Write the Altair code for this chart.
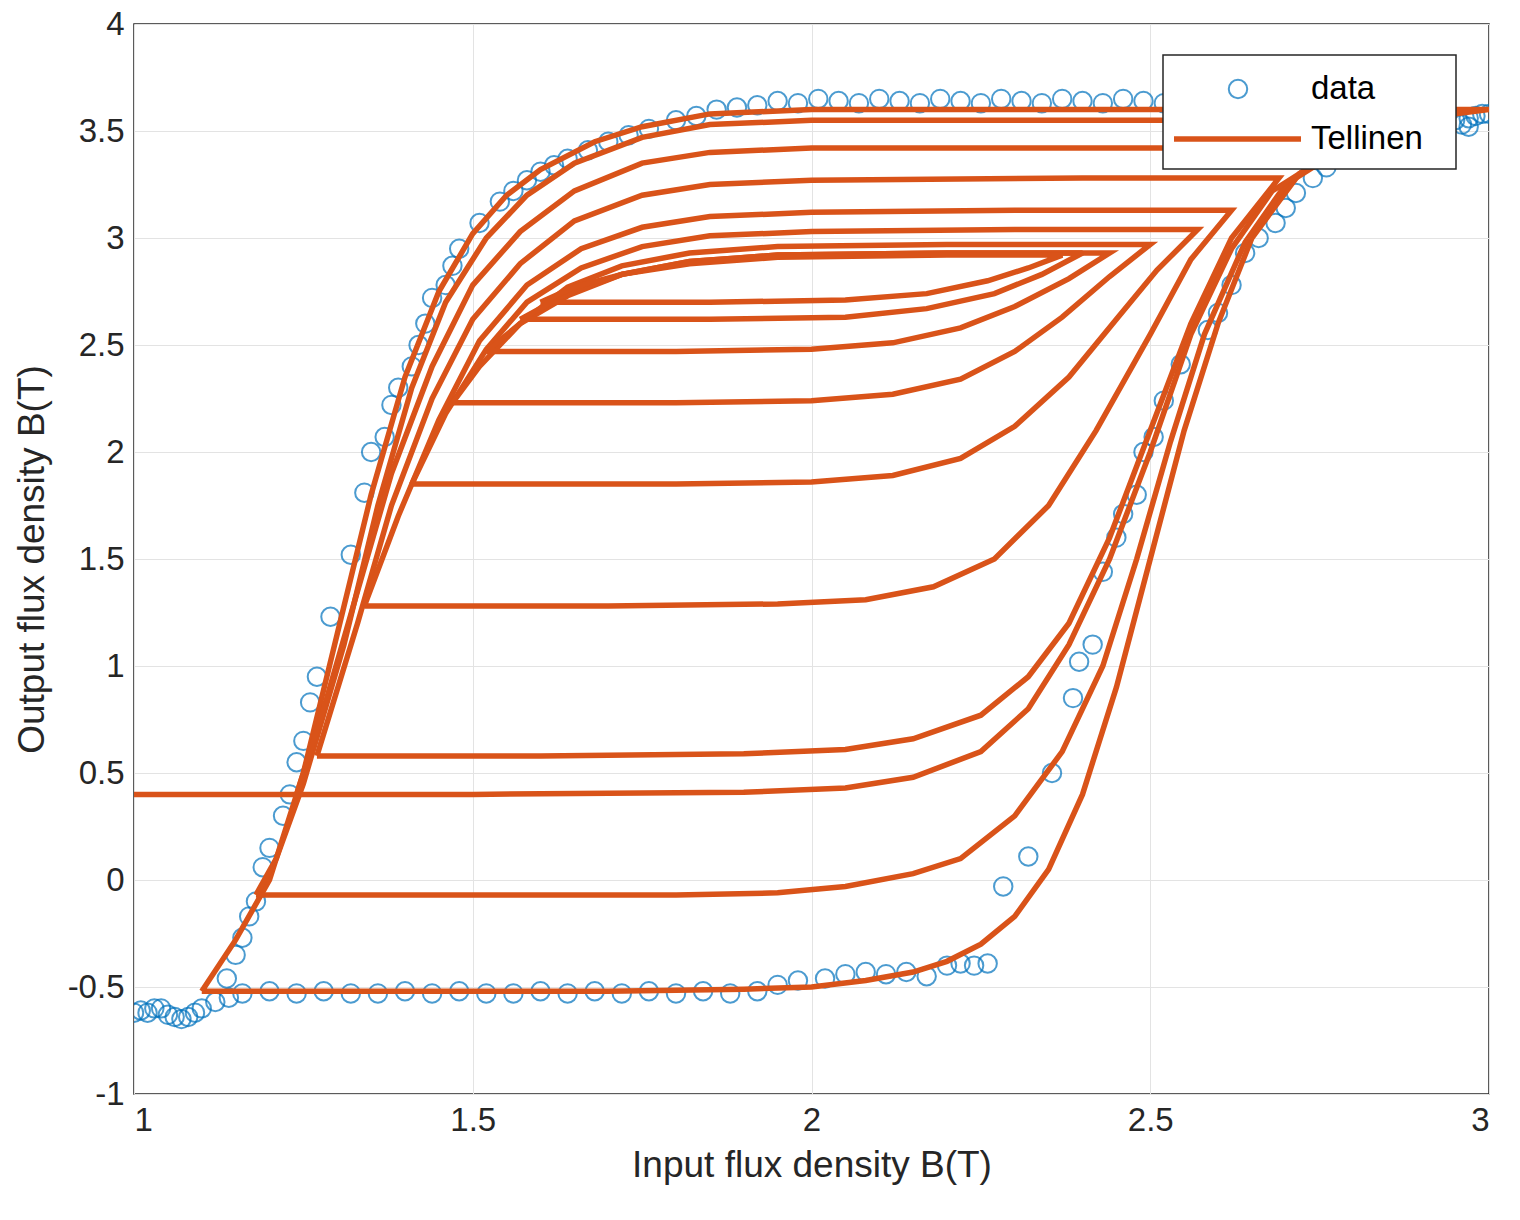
import altair as alt
import pandas as pd

BLUE = "#0072BD"
ORANGE = "#D95319"
FONT = "Liberation Sans"

# measured data (circles)
data_x = [1.0, 1.01, 1.02, 1.03, 1.04, 1.05, 1.06, 1.07, 1.08, 1.09, 1.1, 1.12, 1.14,
          1.16, 1.2, 1.24, 1.28, 1.32, 1.36, 1.4, 1.44, 1.48, 1.52, 1.56, 1.6, 1.64, 1.68,
          1.72, 1.76, 1.8, 1.84, 1.88, 1.92,
          1.95, 1.98, 2.02, 2.05, 2.08, 2.11, 2.14, 2.17, 2.2, 2.22, 2.24, 2.26,
          1.137, 1.15, 1.16, 1.17, 1.18, 1.19, 1.2, 1.22, 1.23, 1.24, 1.25, 1.26, 1.27, 1.29,
          1.32, 1.34, 1.35, 1.37, 1.38, 1.39, 1.41, 1.42, 1.43, 1.44, 1.46, 1.47, 1.48, 1.51,
          1.54, 1.56, 1.58, 1.6, 1.62, 1.64, 1.67, 1.7, 1.73, 1.76, 1.8, 1.83, 1.86, 1.89, 1.92,
          1.95, 1.98, 2.01, 2.04, 2.07, 2.1, 2.13, 2.16, 2.19, 2.22, 2.25, 2.28, 2.31, 2.34,
          2.37, 2.4, 2.43, 2.46, 2.49, 2.52, 2.55, 2.58, 2.61, 2.64, 2.67, 2.7, 2.73, 2.76,
          2.79, 2.82, 2.85, 2.88, 2.91, 2.93,
          2.95, 2.96, 2.97, 2.98, 2.99, 3.0, 2.97,
          2.283, 2.32, 2.355, 2.386, 2.395, 2.415, 2.43, 2.45, 2.46, 2.48, 2.49, 2.505, 2.52,
          2.545, 2.585, 2.6, 2.62, 2.64, 2.66, 2.685, 2.7, 2.715, 2.74, 2.76, 2.8, 2.85, 2.9]
data_y = [-0.62, -0.61, -0.62, -0.6, -0.6, -0.63, -0.64, -0.65, -0.64, -0.62, -0.6, -0.57, -0.55,
          -0.53, -0.52, -0.53, -0.52, -0.53, -0.53, -0.52, -0.53, -0.52, -0.53, -0.53, -0.52,
          -0.53, -0.52, -0.53, -0.52, -0.53, -0.52, -0.53, -0.52,
          -0.49, -0.47, -0.46, -0.44, -0.43, -0.44, -0.43, -0.45, -0.4, -0.39, -0.40, -0.39,
          -0.46, -0.35, -0.27, -0.17, -0.1, 0.06, 0.15, 0.3, 0.4, 0.55, 0.65, 0.83, 0.95, 1.23,
          1.52, 1.81, 2.0, 2.07, 2.22, 2.3, 2.4, 2.5, 2.6, 2.72, 2.78, 2.87, 2.95, 3.07,
          3.17, 3.22, 3.27, 3.31, 3.34, 3.37, 3.41, 3.45, 3.48, 3.51, 3.55, 3.57, 3.6, 3.61, 3.62,
          3.64, 3.63, 3.65, 3.64, 3.63, 3.65, 3.64, 3.63, 3.65, 3.64, 3.63, 3.65, 3.64, 3.63,
          3.65, 3.64, 3.63, 3.65, 3.64, 3.63, 3.65, 3.64, 3.63, 3.65, 3.64, 3.63, 3.65, 3.64,
          3.63, 3.65, 3.64, 3.63, 3.64, 3.6,
          3.55, 3.53, 3.56, 3.57, 3.58, 3.58, 3.52,
          -0.03, 0.11, 0.5, 0.85, 1.02, 1.10, 1.44, 1.6, 1.71, 1.8, 2.0, 2.07, 2.24,
          2.41, 2.57, 2.65, 2.78, 2.93, 3.0, 3.07, 3.14, 3.21, 3.28, 3.33, 3.38, 3.45, 3.5]

# Tellinen model: one path per minor loop
loop_a = [(1.10, -0.52), (1.4, -0.52), (1.7, -0.52), (1.9, -0.51), (2.0, -0.50), (2.08, -0.47),
          (2.15, -0.43), (2.2, -0.38), (2.25, -0.3), (2.3, -0.17), (2.35, 0.05), (2.4, 0.4),
          (2.45, 0.9), (2.5, 1.5), (2.55, 2.1), (2.6, 2.6), (2.65, 3.0), (2.72, 3.3), (2.8, 3.47),
          (2.9, 3.56), (3.0, 3.6), (2.5, 3.6), (2.0, 3.6), (1.85, 3.58), (1.75, 3.52), (1.68, 3.45),
          (1.6, 3.32), (1.55, 3.2), (1.5, 3.02), (1.45, 2.75), (1.4, 2.35), (1.35, 1.8), (1.3, 1.15),
          (1.25, 0.5), (1.2, 0.0), (1.15, -0.28), (1.10, -0.52)]
loop_b = [(1.18, -0.07), (1.5, -0.07), (1.8, -0.07), (1.95, -0.06), (2.05, -0.03), (2.15, 0.03),
          (2.22, 0.1), (2.3, 0.3), (2.37, 0.6), (2.43, 1.0), (2.48, 1.5), (2.53, 2.05), (2.58, 2.55),
          (2.64, 2.98), (2.7, 3.25), (2.8, 3.45), (2.92, 3.55), (2.5, 3.55), (2.0, 3.55), (1.85, 3.53),
          (1.75, 3.47), (1.65, 3.35), (1.58, 3.2), (1.52, 3.0), (1.46, 2.7), (1.41, 2.3), (1.36, 1.75),
          (1.31, 1.1), (1.25, 0.45), (1.21, 0.1), (1.18, -0.07)]
loop_c = [(1.0, 0.4), (1.5, 0.4), (1.9, 0.41), (2.05, 0.43), (2.15, 0.48), (2.25, 0.6), (2.32, 0.8),
          (2.38, 1.1), (2.44, 1.5), (2.5, 2.0), (2.56, 2.55), (2.62, 2.95), (2.68, 3.22), (2.78, 3.42),
          (2.5, 3.42), (2.0, 3.42), (1.85, 3.4), (1.75, 3.35), (1.65, 3.22), (1.57, 3.03), (1.5, 2.78),
          (1.44, 2.4), (1.38, 1.9), (1.33, 1.35), (1.28, 0.8), (1.24, 0.4)]
loop_d = [(1.27, 0.58), (1.6, 0.58), (1.9, 0.59), (2.05, 0.61), (2.15, 0.66), (2.25, 0.77), (2.32, 0.95),
          (2.38, 1.2), (2.44, 1.6), (2.5, 2.1), (2.56, 2.6), (2.62, 3.0), (2.69, 3.28), (2.4, 3.28),
          (2.0, 3.27), (1.85, 3.25), (1.75, 3.2), (1.65, 3.08), (1.57, 2.88), (1.5, 2.62), (1.44, 2.25),
          (1.38, 1.75), (1.33, 1.2), (1.27, 0.58)]
loop_e = [(1.34, 1.28), (1.7, 1.28), (1.95, 1.29), (2.08, 1.31), (2.18, 1.37), (2.27, 1.5), (2.35, 1.75),
          (2.42, 2.1), (2.5, 2.55), (2.56, 2.9), (2.62, 3.13), (2.3, 3.13), (2.0, 3.12), (1.85, 3.1),
          (1.75, 3.05), (1.66, 2.95), (1.58, 2.78), (1.51, 2.52), (1.45, 2.15), (1.39, 1.7), (1.34, 1.28)]
loop_f = [(1.41, 1.85), (1.8, 1.85), (2.0, 1.86), (2.12, 1.89), (2.22, 1.97), (2.3, 2.12), (2.38, 2.35),
          (2.45, 2.62), (2.51, 2.85), (2.57, 3.04), (2.3, 3.04), (2.0, 3.03), (1.85, 3.01), (1.75, 2.96),
          (1.66, 2.86), (1.58, 2.7), (1.52, 2.48), (1.46, 2.18), (1.41, 1.85)]
loop_g = [(1.47, 2.23), (1.8, 2.23), (2.0, 2.24), (2.12, 2.27), (2.22, 2.34), (2.3, 2.47), (2.37, 2.63),
          (2.44, 2.82), (2.5, 2.97), (2.2, 2.97), (1.95, 2.96), (1.82, 2.93), (1.72, 2.87), (1.64, 2.77),
          (1.57, 2.6), (1.51, 2.4), (1.47, 2.23)]
loop_h = [(1.52, 2.47), (1.8, 2.47), (2.0, 2.48), (2.12, 2.51), (2.22, 2.58), (2.3, 2.68), (2.38, 2.81),
          (2.44, 2.93), (2.2, 2.93), (1.95, 2.92), (1.82, 2.89), (1.72, 2.83), (1.64, 2.73), (1.57, 2.6),
          (1.52, 2.47)]
loop_i = [(1.57, 2.62), (1.85, 2.62), (2.05, 2.63), (2.17, 2.67), (2.27, 2.74), (2.34, 2.83), (2.40, 2.93),
          (2.2, 2.93), (1.95, 2.92), (1.82, 2.89), (1.72, 2.83), (1.64, 2.74), (1.57, 2.62)]
loop_j = [(1.60, 2.70), (1.85, 2.70), (2.05, 2.71), (2.17, 2.74), (2.26, 2.8), (2.32, 2.86), (2.37, 2.92),
          (2.2, 2.92), (1.95, 2.91), (1.82, 2.88), (1.72, 2.83), (1.65, 2.77), (1.60, 2.70)]
loops = [loop_a, loop_b, loop_c, loop_d, loop_e, loop_f, loop_g, loop_h, loop_i, loop_j]

rows = []
for k, loop in enumerate(loops):
    for i, (x, y) in enumerate(loop):
        rows.append({"loop": k, "i": i, "x": x, "y": y})
model = pd.DataFrame(rows)
meas = pd.DataFrame({"x": data_x, "y": data_y})

xs = alt.Scale(domain=[1, 3], nice=False)
ys = alt.Scale(domain=[-1, 4], nice=False)
common = dict(labelFontSize=33, titleFontSize=37, labelPadding=10, ticks=False, domain=False,
              gridColor="#e3e3e3", labelColor="#262626", titleColor="#262626",
              titleFontWeight="normal", labelExpr="toString(datum.value)")
xax = alt.Axis(values=[1, 1.5, 2, 2.5, 3], titlePadding=10, **common)
yax = alt.Axis(values=[-1, -0.5, 0, 0.5, 1, 1.5, 2, 2.5, 3, 3.5, 4], titlePadding=16, **common)

pts = alt.Chart(meas).mark_point(shape="circle", size=340, color=BLUE, strokeWidth=2,
                                 filled=False, clip=True).encode(
    x=alt.X("x:Q", scale=xs, axis=xax, title="Input flux density B(T)"),
    y=alt.Y("y:Q", scale=ys, axis=yax, title="Output flux density B(T)"),
)
lines = alt.Chart(model).mark_line(color=ORANGE, strokeWidth=5.5, clip=True).encode(
    x="x:Q", y="y:Q", detail="loop:N", order="i:Q")

# legend box
one = pd.DataFrame({"a": [0]})
box = alt.Chart(one).mark_rect(fill="white", stroke="#262626", strokeWidth=1.5).encode(
    x=alt.value(1029), x2=alt.value(1322), y=alt.value(31), y2=alt.value(145))
leg_pt = alt.Chart(one).mark_point(shape="circle", size=340, color=BLUE, strokeWidth=2).encode(
    x=alt.value(1104), y=alt.value(65))
leg_ln = alt.Chart(one).mark_rule(color=ORANGE, strokeWidth=5.5).encode(
    x=alt.value(1040), x2=alt.value(1167), y=alt.value(115))
leg_txt = alt.Chart(pd.DataFrame({"t": ["data", "Tellinen"], "yy": [65, 115]})).mark_text(
    align="left", baseline="middle", fontSize=33, font=FONT, color="black").encode(
    x=alt.value(1177), y=alt.Y("yy:Q", scale=None), text="t:N")

chart = (pts + lines + box + leg_pt + leg_ln + leg_txt).properties(
    width=1355, height=1070, padding={"left": 5, "top": 0, "right": 5, "bottom": 5}
).configure_view(stroke="#262626", strokeWidth=1.5).configure_axis(
    labelFont=FONT, titleFont=FONT)

chart.save("out.html", embed_options={"renderer": "svg", "actions": False})
